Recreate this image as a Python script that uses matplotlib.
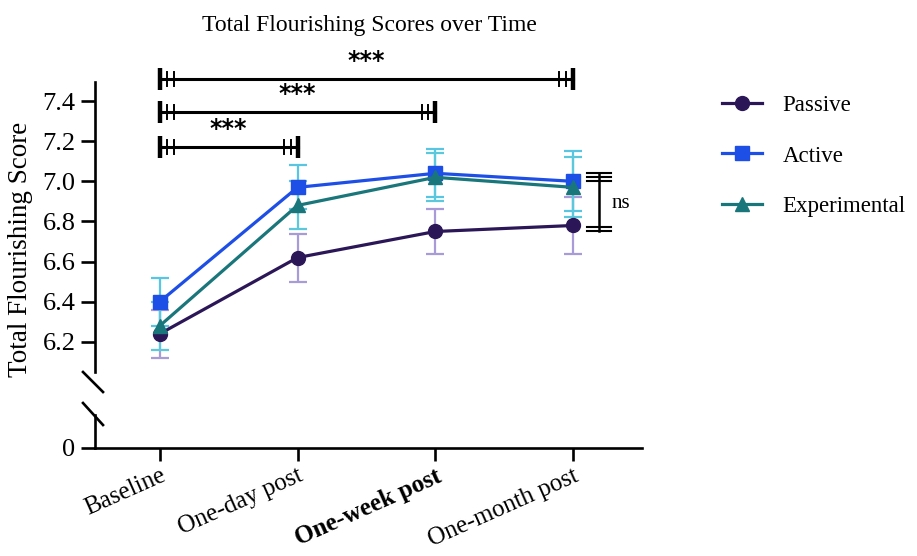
import numpy as np
import matplotlib.pyplot as plt
from matplotlib.lines import Line2D

plt.rcParams['font.family'] = ['Liberation Serif', 'DejaVu Serif']

# Data
times = ['Baseline', 'One-day post', 'One-week post', 'One-month post']
passive = [6.24, 6.62, 6.75, 6.78]
passive_err = [0.12, 0.12, 0.11, 0.14]
active = [6.40, 6.97, 7.04, 7.00]
active_err = [0.12, 0.11, 0.12, 0.15]
experimental = [6.28, 6.88, 7.02, 6.97]
experimental_err = [0.12, 0.12, 0.12, 0.15]

# significance brackets: (start index, end index, y level, label)
sig_brackets = [(0, 3, 7.51, '***'), (0, 2, 7.345, '***'), (0, 1, 7.17, '***')]
ns_top = [7.04, 7.02, 7.00]
ns_bottom = [6.77, 6.75]

series = [
    ('Passive', passive, passive_err, '#2b1757', '#a99bd8', 'o'),
    ('Active', active, active_err, '#1d4ee6', '#58c6e2', 's'),
    ('Experimental', experimental, experimental_err, '#19767a', '#5cc8dc', '^'),
]

W, H = 917, 556
fig = plt.figure(figsize=(W / 100, H / 100), dpi=100)

def frac(x0, y0, x1, y1):
    return [x0 / W, 1 - y1 / H, (x1 - x0) / W, (y1 - y0) / H]

ax = fig.add_axes(frac(95, 82, 642, 382))
axb = fig.add_axes(frac(95, 405, 642, 448), sharex=ax)

x = np.arange(len(times))
lw_spine = 1.9

for name, vals, err, col, ecol, mk in series:
    ax.errorbar(x, vals, yerr=err, fmt='none', ecolor=ecol, elinewidth=1.6,
                capsize=6.5, capthick=1.6, zorder=2)
    ax.plot(x, vals, color=col, marker=mk, markersize=10, linewidth=2.3,
            label=name, zorder=3)

ax.set_xlim(-0.47, 3.5)
ax.set_ylim(6.0, 7.495)
ax.set_yticks([6.2, 6.4, 6.6, 6.8, 7.0, 7.2, 7.4])
ax.set_yticklabels(['6.2', '6.4', '6.6', '6.8', '7.0', '7.2', '7.4'])
for s in ['top', 'right', 'bottom']:
    ax.spines[s].set_visible(False)
ax.spines['left'].set_linewidth(lw_spine)
ax.spines['left'].set_bounds(6.05, 7.495)
ax.tick_params(axis='y', direction='out', length=10, width=lw_spine, labelsize=19, pad=4)
ax.tick_params(axis='x', bottom=False, labelbottom=False)
ax.set_ylabel('Total Flourishing Score', fontsize=19.5)
ax.yaxis.set_label_coords(-0.113, 0.443)

# bottom part with 0
axb.set_ylim(0, 1)
axb.set_yticks([0])
axb.set_yticklabels(['0'])
for s in ['top', 'right']:
    axb.spines[s].set_visible(False)
axb.spines['left'].set_linewidth(lw_spine)
axb.spines['bottom'].set_linewidth(lw_spine)
axb.spines['left'].set_bounds(0, 0.77)
axb.tick_params(axis='y', direction='out', length=10, width=lw_spine, labelsize=19, pad=4)
axb.tick_params(axis='x', direction='out', length=9, width=lw_spine, pad=3)
axb.set_xticks(x)
axb.set_xticklabels(times, rotation=24, ha='right', va='top',
                    rotation_mode='anchor', fontsize=18)
for lbl in axb.get_xticklabels():
    if lbl.get_text() == 'One-week post':
        lbl.set_fontweight('bold')

# axis break slashes
for (x0, y0, x1, y1) in [(83, 372, 103, 392), (83, 403, 103, 425)]:
    fig.add_artist(Line2D([x0 / W, x1 / W], [1 - y0 / H, 1 - y1 / H],
                          color='black', linewidth=lw_spine, transform=fig.transFigure))

# significance brackets
thick_h, thin_h = 0.055, 0.035
for i0, i1, y, txt in sig_brackets:
    ax.plot([i0, i1], [y, y], color='black', lw=2.2, clip_on=False)
    for xe, sgn in [(i0, 1), (i1, -1)]:
        ax.plot([xe, xe], [y - thick_h, y + thick_h], color='black', lw=3.2,
                clip_on=False, solid_capstyle='butt')
        for off in (0.05, 0.1):
            ax.plot([xe + sgn * off] * 2, [y - thin_h, y + thin_h], color='black',
                    lw=1.4, clip_on=False)
    ax.text((i0 + i1) / 2, y + 0.03, txt, ha='center', va='bottom', fontsize=17,
            fontweight='bold', family='DejaVu Sans', clip_on=False)

# ns bracket
xn, hw = 3.19, 0.087
ax.plot([xn, xn], [ns_bottom[-1], ns_top[0]], color='black', lw=1.8)
for yv in ns_top + ns_bottom:
    ax.plot([xn - hw, xn + hw], [yv, yv], color='black', lw=1.5)
ax.text(xn + 0.09, 6.89, 'ns', fontsize=15, ha='left', va='center')

fig.text(369 / W, 1 - 25 / H, 'Total Flourishing Scores over Time', ha='center',
         va='center', fontsize=17)

fig.legend(*ax.get_legend_handles_labels(), loc='upper left',
           bbox_to_anchor=(701 / W, 1 - 74 / H), frameon=False, fontsize=16.5,
           handlelength=1.75, labelspacing=1.3, handletextpad=0.9)

fig.savefig('out.png', dpi=100)
